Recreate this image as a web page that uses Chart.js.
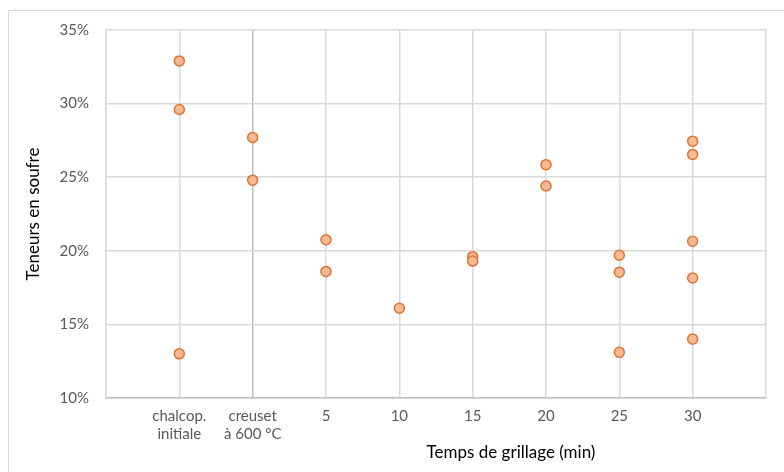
<!DOCTYPE html>
<html>
<head>
<meta charset="utf-8">
<script src="https://cdn.jsdelivr.net/npm/chart.js@4/dist/chart.umd.min.js"></script>
<style>
  html, body { margin: 0; padding: 0; background: #fff; overflow: hidden; }
  #wrap { position: relative; width: 784px; height: 472px; }
  #frame { position: absolute; left: 8px; top: 10px; width: 820px; height: 520px; border: 1px solid #d9d9d9; pointer-events: none; }
</style>
</head>
<body>
<div id="wrap">
  <canvas id="chart" width="784" height="472"></canvas>
  <div id="frame"></div>
</div>
<script>
// Categories on the x axis (positions 1..8)
const xLabels = [['chalcop.', 'initiale'], ['creuset', 'à 600 °C'], '5', '10', '15', '20', '25', '30'];

// Sulphur content (%) per category
const chalcopValues = [32.9, 29.6, 13.0];
const creusetValues = [27.7, 24.8];
const t5Values = [20.75, 18.6];
const t10Values = [16.1];
const t15Values = [19.6, 19.3];
const t20Values = [25.85, 24.4];
const t25Values = [19.7, 18.55, 13.1];
const t30Values = [27.45, 26.55, 20.65, 18.15, 14.0];

// Y axis ticks
const yMin = 10;
const yMax = 35;
const yStep = 5;

const xTitle = 'Temps de grillage (min)';
const yTitle = 'Teneurs en soufre';

const allSeries = [chalcopValues, creusetValues, t5Values, t10Values, t15Values, t20Values, t25Values, t30Values];
const points = [];
allSeries.forEach((vals, i) => {
  vals.forEach(v => points.push({ x: i + 1, y: v }));
});

const FONT = 'Lato, "Open Sans", sans-serif';

// Draw the x axis title (centered on the chart area, like Excel does)
const xTitlePlugin = {
  id: 'xTitlePlugin',
  afterDraw(chart) {
    const ctx = chart.ctx;
    ctx.save();
    ctx.font = '17px ' + FONT;
    ctx.fillStyle = '#000';
    ctx.textAlign = 'center';
    ctx.textBaseline = 'middle';
    ctx.fillText(xTitle, 511, 453);
    ctx.restore();
  }
};

new Chart(document.getElementById('chart').getContext('2d'), {
  type: 'scatter',
  data: {
    datasets: [{
      data: points,
      pointRadius: 5,
      pointHoverRadius: 5,
      pointBackgroundColor: '#F5BA94',
      pointBorderColor: '#DD7434',
      pointBorderWidth: 1.5
    }]
  },
  options: {
    responsive: false,
    animation: false,
    layout: { padding: { top: 30, right: 18, left: 0, bottom: 0 } },
    plugins: {
      legend: { display: false },
      tooltip: { enabled: false }
    },
    scales: {
      x: {
        type: 'linear',
        min: 0,
        max: 9,
        afterFit: (scale) => { scale.height = 74; },
        ticks: {
          stepSize: 1,
          autoSkip: false,
          maxRotation: 0,
          padding: 9,
          color: '#595959',
          font: { family: FONT, size: 15 },
          callback: (v) => (v >= 1 && v <= 8 ? xLabels[v - 1] : '')
        },
        grid: {
          drawTicks: false,
          color: (ctx) => (ctx.tick && ctx.tick.value === 2 ? '#bfbfbf' : '#d9d9d9'),
          lineWidth: 1.5
        },
        border: { color: '#bfbfbf', width: 1.5 }
      },
      y: {
        min: yMin,
        max: yMax,
        afterFit: (scale) => { scale.width = 106; },
        ticks: {
          stepSize: yStep,
          padding: 17,
          color: '#595959',
          font: { family: FONT, size: 15 },
          callback: (v) => v + '%'
        },
        title: {
          display: true,
          text: yTitle,
          color: '#000',
          font: { family: FONT, size: 17 },
          padding: { top: 23, bottom: 0 }
        },
        grid: { drawTicks: false, color: '#d9d9d9', lineWidth: 1.5 },
        border: { color: '#d9d9d9', width: 1.5 }
      }
    }
  },
  plugins: [xTitlePlugin]
});
</script>
</body>
</html>
